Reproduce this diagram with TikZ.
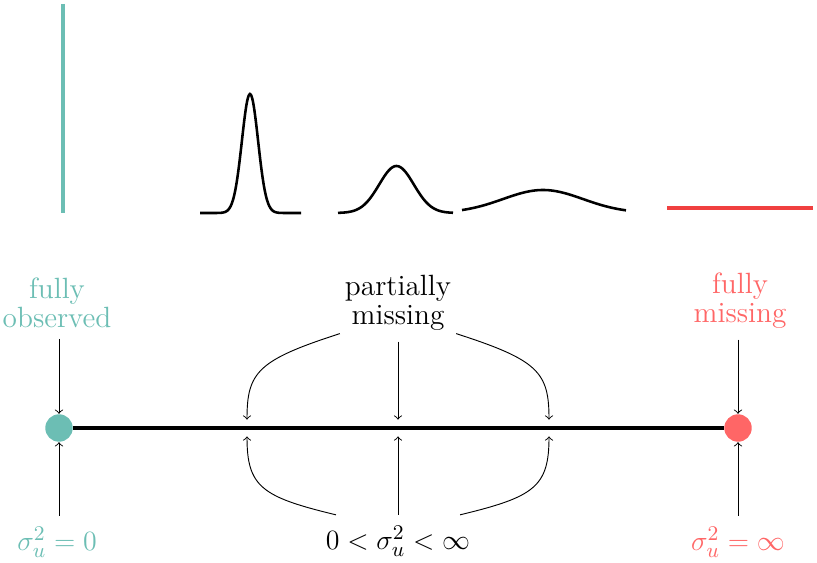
\documentclass[tikz,border=0pt]{standalone}
\usepackage{amsmath,amssymb}
\usepackage{tikz}
\usetikzlibrary{arrows,positioning,calc}
\definecolor{obsteal}{RGB}{108,190,180}
\definecolor{misred}{RGB}{255,102,102}
\definecolor{linered}{RGB}{240,64,64}
\tikzset{
  flow/.style={->,line width=0.4pt,shorten >=3.6pt},
  axisline/.style={line width=1.3pt},
  dens/.style={line width=1.1pt,smooth},
  dot/.style={circle,inner sep=0pt,minimum size=11.8pt},
  lbl/.style={align=center,font=\fontsize{12.6}{12.4}\selectfont,
    inner xsep=2pt,inner ysep=4.5pt},
}

\begin{document}
\begin{tikzpicture}[x=0.43pt,y=-0.43pt]
\useasboundingbox (0,0) rectangle (817,563);
% densities for growing sigma_u
\draw[obsteal,axisline] (63,4) -- (63,213);
\draw[dens] plot[domain=200:301,samples=90] (\x,{213-119*exp(-((\x-250)*(\x-250))/131)});
\draw[dens] plot[domain=338:453,samples=90] (\x,{213-47*exp(-((\x-396.5)*(\x-396.5))/599)});
\draw[dens] plot[domain=462:626,samples=90] (\x,{213-23*exp(-((\x-543)*(\x-543))/3200)});
\draw[linered,axisline] (667,208) -- (813,208);
% the axis
\node[dot,fill=obsteal] (obs) at (59,428) {};
\node[dot,fill=misred] (mis) at (738,428) {};
\draw[axisline] (obs) -- (mis);
\coordinate (q1) at (247,428);
\coordinate (q2) at (398,428);
\coordinate (q3) at (549,428);
% labels above
\node[lbl,text=obsteal] (obslbl) at (57,303) {fully\\observed};
\node[lbl] (pm) at (398,303) {partially\\missing};
\node[lbl,text=misred] (mislbl) at (740,301) {fully\\missing};
\draw[flow,shorten >=0pt] (obslbl.south -| obs) -- (obs);
\draw[flow,shorten >=0pt] (mislbl.south -| mis) -- (mis);
\draw[flow] (pm) -- (q2);
\draw[flow] ([yshift=3.4pt]pm.south west) .. controls (258,360) and (247,372) .. (q1);
\draw[flow] ([yshift=3.4pt]pm.south east) .. controls (538,360) and (549,372) .. (q3);
% labels below
\node[lbl,text=obsteal] (obssig) at (57,542) {$\sigma_u^2 = 0$};
\node[lbl] (sig) at (398,541) {$0 < \sigma_u^2 < \infty$};
\node[lbl,text=misred] (missig) at (738,542) {$\sigma_u^2 = \infty$};
\draw[flow,shorten >=0pt] (obssig.north -| obs) -- (obs);
\draw[flow,shorten >=0pt] (missig) -- (mis);
\draw[flow] (sig) -- (q2);
\draw[flow] ([xshift=6.5pt]sig.north west) .. controls (262,497) and (247,487) .. (q1);
\draw[flow] ([xshift=-6.5pt]sig.north east) .. controls (534,497) and (549,487) .. (q3);
\end{tikzpicture}
\end{document}
